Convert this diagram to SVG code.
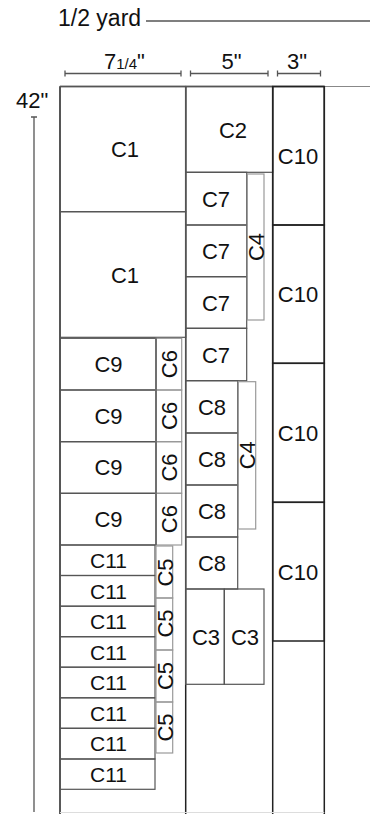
<svg xmlns="http://www.w3.org/2000/svg" width="370" height="814" viewBox="0 0 370 814">
<style>
text{font-family:"Liberation Sans",Arial,sans-serif;fill:#111;}
.lbl{font-size:22px;text-anchor:middle;}
.sm{font-size:21px;}
.frame{stroke:#222;stroke-width:1.5;fill:none;}
.cell{stroke:#555;stroke-width:1.2;fill:none;}
.thin{stroke:#999;stroke-width:1.2;fill:none;}
.dl{stroke:#555;stroke-width:1.3;fill:none;}
</style>
<rect width="370" height="814" fill="#fff"/>

<g id="dimensions">
  <text x="58" y="26" style="font-size:23px">1/2 yard</text>
  <line class="dl" x1="146" y1="21" x2="370" y2="21" stroke="#777"/>
  <path class="dl" d="M65,73.5H181M65,70.5V76.5M181,70.5V76.5"/>
  <text x="104" y="69" style="font-size:22px">7<tspan style="font-size:15px">1/4</tspan>"</text>
  <path class="dl" d="M190.5,73.5H268M190.5,70.5V76.5M268,70.5V76.5"/>
  <text x="221.5" y="69" style="font-size:22px">5"</text>
  <path class="dl" d="M277.5,73.5H320.5M277.5,70.5V76.5M320.5,70.5V76.5"/>
  <text x="287" y="69" style="font-size:22px">3"</text>
  <text x="16" y="108" style="font-size:22px">42"</text>
  <path class="dl" d="M34,117V812M31,117H37" stroke="#444"/>
</g>

<g id="frame">
  <line class="frame" x1="60" y1="86.5" x2="324.3" y2="86.5"/>
  <line x1="324.3" y1="86.5" x2="370" y2="86.5" stroke="#888" stroke-width="1.2"/>
  <line class="frame" x1="60" y1="86.5" x2="60" y2="814"/>
  <line class="frame" x1="185.7" y1="86.5" x2="185.7" y2="814"/>
  <line class="frame" x1="272.7" y1="86.5" x2="272.7" y2="814"/>
  <line class="frame" x1="324.3" y1="86.5" x2="324.3" y2="814"/>
  <line x1="60" y1="812.5" x2="324.3" y2="812.5" stroke="#ddd" stroke-width="1"/>
</g>

<g id="c1-a"><rect class="cell" x="60" y="86.5" width="125.7" height="125.2"/><text class="lbl" x="125" y="157">C1</text></g>
<g id="c1-b"><rect class="cell" x="60" y="211.7" width="125.7" height="125.6"/><text class="lbl" x="125" y="282.5">C1</text></g>

<g id="c2"><rect class="cell" x="185.7" y="86.5" width="87" height="85.8"/><text class="lbl" x="233" y="138">C2</text></g>

<g id="c10-a"><rect class="frame" x="272.7" y="86.5" width="51.6" height="138.5"/><text class="lbl" x="298" y="163.5">C10</text></g>
<g id="c10-b"><rect class="frame" x="272.7" y="225" width="51.6" height="138.3"/><text class="lbl" x="298" y="302">C10</text></g>
<g id="c10-c"><rect class="frame" x="272.7" y="363.3" width="51.6" height="139"/><text class="lbl" x="298" y="440.5">C10</text></g>
<g id="c10-d"><rect class="frame" x="272.7" y="502.3" width="51.6" height="138.7"/><text class="lbl" x="298" y="579.5">C10</text></g>

<g id="c7-a"><rect class="cell" x="185.7" y="172.3" width="61" height="52.7"/><text class="lbl" x="216" y="206.5">C7</text></g>
<g id="c7-b"><rect class="cell" x="185.7" y="225" width="61" height="51.7"/><text class="lbl" x="216" y="259">C7</text></g>
<g id="c7-c"><rect class="cell" x="185.7" y="276.7" width="61" height="51.6"/><text class="lbl" x="216" y="310.5">C7</text></g>
<g id="c7-d"><rect class="cell" x="185.7" y="328.3" width="61" height="52.4"/><text class="lbl" x="216" y="362.5">C7</text></g>

<g id="c4-a"><rect class="thin" x="247.3" y="174" width="16.7" height="146"/><text class="lbl" transform="translate(255.6,247) rotate(-90)" y="8">C4</text></g>

<g id="c8-a"><rect class="cell" x="185.7" y="380.7" width="52" height="52.3"/><text class="lbl" x="212" y="415">C8</text></g>
<g id="c8-b"><rect class="cell" x="185.7" y="433" width="52" height="52"/><text class="lbl" x="212" y="467">C8</text></g>
<g id="c8-c"><rect class="cell" x="185.7" y="485" width="52" height="52"/><text class="lbl" x="212" y="519">C8</text></g>
<g id="c8-d"><rect class="cell" x="185.7" y="537" width="52" height="52"/><text class="lbl" x="212" y="571">C8</text></g>

<g id="c4-b"><rect class="thin" x="238.3" y="381.7" width="17.4" height="147.3"/><text class="lbl" transform="translate(247,455.3) rotate(-90)" y="8">C4</text></g>

<g id="c3-a"><rect class="cell" x="185.7" y="589" width="38.6" height="95.3"/><text class="lbl" x="206" y="644.5">C3</text></g>
<g id="c3-b"><rect class="cell" x="224.3" y="589" width="39.7" height="95.3"/><text class="lbl" x="245" y="644.5">C3</text></g>

<g id="c9-a"><rect class="cell" x="60" y="338.3" width="96" height="51.7"/><text class="lbl" x="108.5" y="372">C9</text></g>
<g id="c9-b"><rect class="cell" x="60" y="390" width="96" height="51.7"/><text class="lbl" x="108.5" y="423.7">C9</text></g>
<g id="c9-c"><rect class="cell" x="60" y="441.7" width="96" height="51.6"/><text class="lbl" x="108.5" y="475.4">C9</text></g>
<g id="c9-d"><rect class="cell" x="60" y="493.3" width="96" height="51.7"/><text class="lbl" x="108.5" y="527">C9</text></g>

<g id="c6-a"><rect class="thin" x="156" y="338.3" width="25.7" height="51.7"/><text class="lbl" transform="translate(169.3,364.2) rotate(-90)" y="8">C6</text></g>
<g id="c6-b"><rect class="thin" x="156" y="390" width="25.7" height="51.7"/><text class="lbl" transform="translate(169.3,415.9) rotate(-90)" y="8">C6</text></g>
<g id="c6-c"><rect class="thin" x="156" y="441.7" width="25.7" height="51.6"/><text class="lbl" transform="translate(169.3,467.5) rotate(-90)" y="8">C6</text></g>
<g id="c6-d"><rect class="thin" x="156" y="493.3" width="25.7" height="51.7"/><text class="lbl" transform="translate(169.3,519.2) rotate(-90)" y="8">C6</text></g>
<line x1="156" y1="338.3" x2="156" y2="545" stroke="#555" stroke-width="1.2"/>

<g id="c11-1"><rect class="cell" x="60" y="545" width="95" height="30.5"/><text class="lbl sm" x="108.5" y="568">C11</text></g>
<g id="c11-2"><rect class="cell" x="60" y="575.5" width="95" height="30.7"/><text class="lbl sm" x="108.5" y="598.5">C11</text></g>
<g id="c11-3"><rect class="cell" x="60" y="606.2" width="95" height="30.5"/><text class="lbl sm" x="108.5" y="629">C11</text></g>
<g id="c11-4"><rect class="cell" x="60" y="636.7" width="95" height="30.5"/><text class="lbl sm" x="108.5" y="659.5">C11</text></g>
<g id="c11-5"><rect class="cell" x="60" y="667.2" width="95" height="30.6"/><text class="lbl sm" x="108.5" y="690">C11</text></g>
<g id="c11-6"><rect class="cell" x="60" y="697.8" width="95" height="30.5"/><text class="lbl sm" x="108.5" y="720.5">C11</text></g>
<g id="c11-7"><rect class="cell" x="60" y="728.3" width="95" height="30.7"/><text class="lbl sm" x="108.5" y="751">C11</text></g>
<g id="c11-8"><rect class="cell" x="60" y="759" width="95" height="30.3"/><text class="lbl sm" x="108.5" y="781.5">C11</text></g>

<g id="c5-a"><rect class="thin" x="156" y="546" width="16.7" height="52"/><text class="lbl" transform="translate(164.5,572.5) rotate(-90)" y="8">C5</text></g>
<g id="c5-b"><rect class="thin" x="156" y="598" width="16.7" height="52"/><text class="lbl" transform="translate(164.5,623.5) rotate(-90)" y="8">C5</text></g>
<g id="c5-c"><rect class="thin" x="156" y="650" width="16.7" height="52"/><text class="lbl" transform="translate(164.5,676) rotate(-90)" y="8">C5</text></g>
<g id="c5-d"><rect class="thin" x="156" y="702" width="16.7" height="51"/><text class="lbl" transform="translate(164.5,727.5) rotate(-90)" y="8">C5</text></g>
</svg>
